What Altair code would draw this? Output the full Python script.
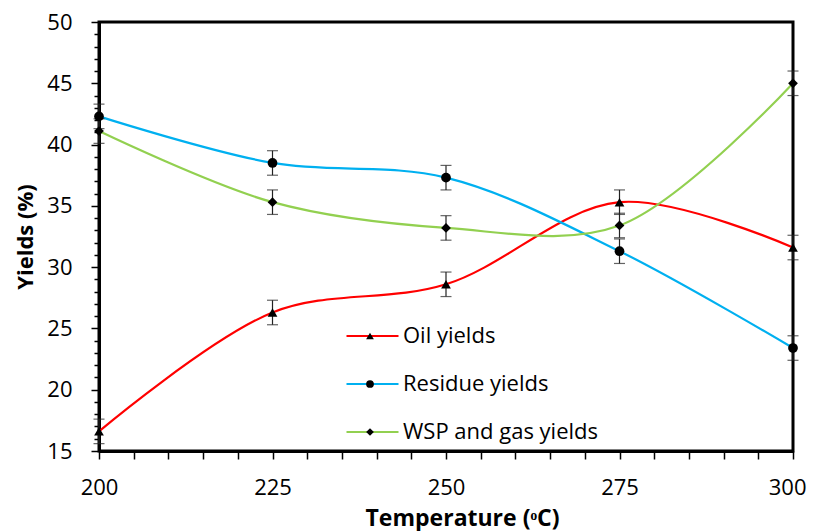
import altair as alt
import pandas as pd

temps = [200, 225, 250, 275, 300]
series_names = ["Oil yields", "Residue yields", "WSP and gas yields"]
oil = [16.6, 26.3, 28.6, 35.3, 31.6]
residue = [42.3, 38.5, 37.3, 31.3, 23.4]
wsp = [41.1, 35.3, 33.2, 33.4, 45.0]
oil_err = [1.0, 1.0, 1.0, 1.0, 1.0]
residue_err = [1.0, 1.0, 1.0, 1.0, 1.0]
wsp_err = [1.0, 1.0, 1.0, 1.0, 1.0]
line_colors = ["#FF0000", "#00B0F0", "#92D050"]
shapes = ["triangle-up", "circle", "diamond"]

marker_names = [n + " " for n in series_names]

rows = []
for name, mname, vals, errs in zip(series_names, marker_names, [oil, residue, wsp],
                                   [oil_err, residue_err, wsp_err]):
    for t, v, e in zip(temps, vals, errs):
        rows.append({"temp": t, "yield": v, "lo": v - e, "hi": v + e,
                     "series": name, "marker": mname})
df = pd.DataFrame(rows)

FONT = "Open Sans"

xscale = alt.Scale(domain=[200, 300], nice=False, zero=False)
yscale = alt.Scale(domain=[15, 50], nice=False, zero=False)

x_axis = alt.Axis(values=list(range(200, 301, 5)),
                  labelExpr="datum.value % 25 === 0 ? datum.label : ''",
                  labelOverlap=False, labelFlush=False, labelBound=False,
                  labelAlign={"condition": {"test": "datum.value === 300", "value": "right"},
                              "value": "center"},
                  labelOffset={"condition": {"test": "datum.value === 300", "value": 13},
                               "value": 0},
                  title="Temperature (ᵒC)",
                  titleX=363, titleY=74, titleBaseline="alphabetic",
                  titleAnchor="start", titleAlign="center")
y_axis = alt.Axis(values=list(range(15, 51, 1)),
                  labelExpr="datum.value % 5 === 0 ? datum.label : ''",
                  labelOverlap=False, labelFlush=False, labelBound=False,
                  tickSize={"condition": {"test": "datum.value % 5 === 0", "value": 8}, "value": 5},
                  title="Yields (%)", titlePadding=9)

x_enc = alt.X("temp:Q", scale=xscale, axis=x_axis)


def yq(field):
    return alt.Y(field + ":Q", scale=yscale, axis=y_axis)


base = alt.Chart(df)

lines = base.mark_line(interpolate="catmull-rom", strokeWidth=2.2).encode(
    x=x_enc, y=yq("yield"),
    color=alt.Color("series:N",
                    scale=alt.Scale(domain=series_names, range=line_colors),
                    legend=alt.Legend(title=None, orient="none", legendX=246, legendY=292,
                                      symbolType="stroke", symbolSize=2704,
                                      symbolStrokeWidth=2.2, clipHeight=44, rowPadding=4,
                                      labelFont=FONT, labelFontSize=22, labelColor="black",
                                      labelOffset=3, labelLimit=400, padding=0)),
    detail="series:N",
)

err_rule = base.mark_rule(color="#222222", strokeWidth=1.2).encode(
    x=x_enc, y=yq("lo"), y2="hi:Q")
cap_lo = base.mark_tick(color="#222222", orient="horizontal", size=11, thickness=1.2).encode(
    x=x_enc, y=yq("lo"))
cap_hi = base.mark_tick(color="#222222", orient="horizontal", size=11, thickness=1.2).encode(
    x=x_enc, y=yq("hi"))

points = base.mark_point(filled=True, color="black", opacity=1, size=95).encode(
    x=x_enc, y=yq("yield"),
    shape=alt.Shape("marker:N",
                    scale=alt.Scale(domain=marker_names, range=shapes),
                    legend=alt.Legend(title=None, orient="none", legendX=260, legendY=292,
                                      symbolSize=60, symbolFillColor="black",
                                      symbolStrokeColor="black",
                                      clipHeight=44, rowPadding=4,
                                      labelExpr="''", labelFontSize=22,
                                      padding=0)),
)

chart = alt.layer(lines, err_rule, cap_lo, cap_hi, points).properties(
    width=694, height=429,
    autosize=alt.AutoSizeParams(type="none"),
    padding={"left": 91, "top": 14, "right": 14, "bottom": 80},
).configure_view(
    stroke="black", strokeWidth=3
).configure_axis(
    domainColor="black", domainWidth=3, tickColor="black", tickWidth=1.5,
    tickSize=8, grid=False,
    labelFont=FONT, labelFontSize=22, labelColor="black",
    titleFont=FONT, titleFontSize=22, titleFontWeight="bold", titleColor="black",
).configure_axisX(labelPadding=18, titleFontSize=23).configure_axisY(labelPadding=19)

chart.save("out.html", embed_options={"renderer": "svg", "actions": False})
